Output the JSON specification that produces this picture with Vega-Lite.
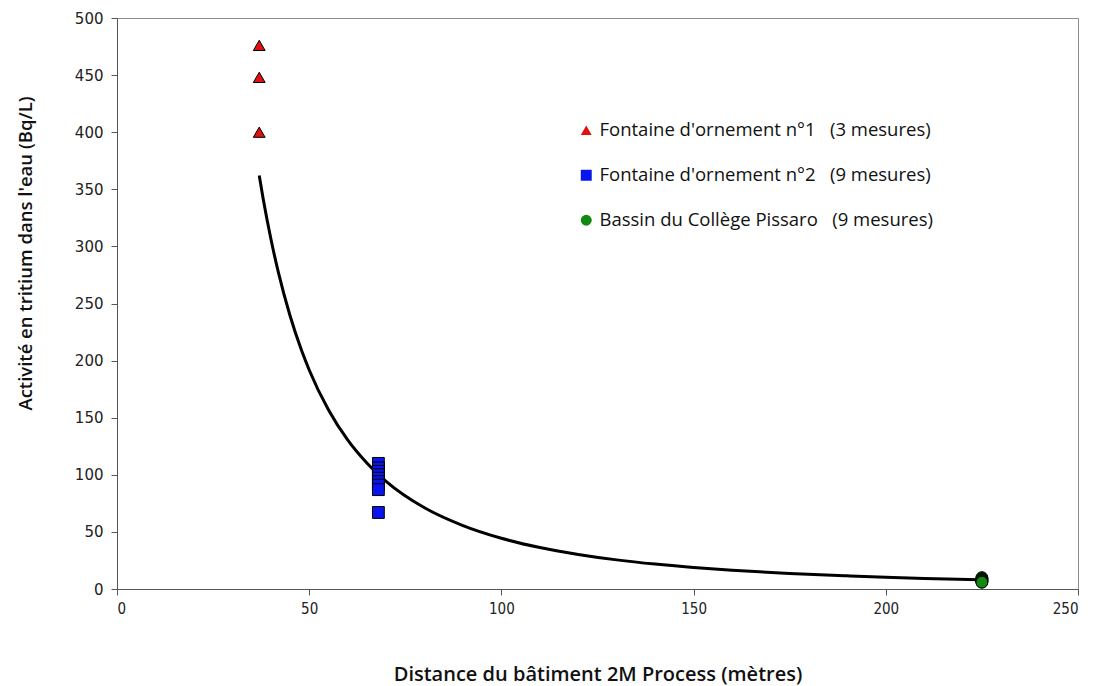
{
  "$schema": "https://vega.github.io/schema/vega-lite/v6.json",
  "width": 961,
  "height": 571,
  "autosize": {"type": "none"},
  "padding": {"left": 117, "top": 18, "right": 18, "bottom": 97},
  "background": "white",
  "config": {
    "font": "DejaVu Sans",
    "view": {"stroke": "#8c8c8c", "strokeWidth": 1},
    "axis": {
      "grid": false,
      "domainColor": "#555555",
      "tickColor": "#555555",
      "tickSize": 6,
      "labelFont": "DejaVu Sans",
      "labelFontSize": 15,
      "labelColor": "#222222",
      "titleColor": "#111111"
    }
  },
  "datasets": {
    "mesures": [
      {"distance": 37, "activite": 476, "serie": "Fontaine d'ornement n°1"},
      {"distance": 37, "activite": 448, "serie": "Fontaine d'ornement n°1"},
      {"distance": 37, "activite": 400, "serie": "Fontaine d'ornement n°1"},
      {"distance": 68, "activite": 110, "serie": "Fontaine d'ornement n°2"},
      {"distance": 68, "activite": 106, "serie": "Fontaine d'ornement n°2"},
      {"distance": 68, "activite": 103, "serie": "Fontaine d'ornement n°2"},
      {"distance": 68, "activite": 100, "serie": "Fontaine d'ornement n°2"},
      {"distance": 68, "activite": 97, "serie": "Fontaine d'ornement n°2"},
      {"distance": 68, "activite": 94, "serie": "Fontaine d'ornement n°2"},
      {"distance": 68, "activite": 91, "serie": "Fontaine d'ornement n°2"},
      {"distance": 68, "activite": 87, "serie": "Fontaine d'ornement n°2"},
      {"distance": 68, "activite": 67, "serie": "Fontaine d'ornement n°2"},
      {"distance": 225, "activite": 10, "serie": "Bassin du Collège Pissaro"},
      {"distance": 225, "activite": 9, "serie": "Bassin du Collège Pissaro"},
      {"distance": 225, "activite": 9, "serie": "Bassin du Collège Pissaro"},
      {"distance": 225, "activite": 8, "serie": "Bassin du Collège Pissaro"},
      {"distance": 225, "activite": 8, "serie": "Bassin du Collège Pissaro"},
      {"distance": 225, "activite": 7, "serie": "Bassin du Collège Pissaro"},
      {"distance": 225, "activite": 7, "serie": "Bassin du Collège Pissaro"},
      {"distance": 225, "activite": 6, "serie": "Bassin du Collège Pissaro"},
      {"distance": 225, "activite": 6, "serie": "Bassin du Collège Pissaro"}
    ],
    "courbe": [
      {"distance": 37, "activite": 362},
      {"distance": 38, "activite": 342.2},
      {"distance": 40, "activite": 307.1},
      {"distance": 42, "activite": 277.0},
      {"distance": 45, "activite": 239.5},
      {"distance": 48, "activite": 209.0},
      {"distance": 50, "activite": 191.8},
      {"distance": 55, "activite": 156.9},
      {"distance": 60, "activite": 130.5},
      {"distance": 65, "activite": 110.3},
      {"distance": 70, "activite": 94.3},
      {"distance": 80, "activite": 71.1},
      {"distance": 90, "activite": 55.5},
      {"distance": 100, "activite": 44.4},
      {"distance": 110, "activite": 36.3},
      {"distance": 120, "activite": 30.3},
      {"distance": 130, "activite": 25.5},
      {"distance": 140, "activite": 21.8},
      {"distance": 150, "activite": 18.9},
      {"distance": 160, "activite": 16.5},
      {"distance": 175, "activite": 13.6},
      {"distance": 190, "activite": 11.5},
      {"distance": 200, "activite": 10.3},
      {"distance": 210, "activite": 9.3},
      {"distance": 225, "activite": 8.0}
    ]
  },
  "encoding": {
    "x": {
      "field": "distance",
      "type": "quantitative",
      "scale": {"domain": [0, 250], "nice": false, "zero": true},
      "axis": {
        "values": [0, 50, 100, 150, 200, 250],
        "labelFont": "DejaVu Sans Condensed",
        "title": "Distance du bâtiment 2M Process (mètres)",
        "titleFontSize": 20,
        "titleFontWeight": 600,
        "titleFont": "Open Sans",
        "titlePadding": 48,
        "labelPadding": 6
      }
    },
    "y": {
      "field": "activite",
      "type": "quantitative",
      "scale": {"domain": [0, 500], "nice": false},
      "axis": {
        "values": [0, 50, 100, 150, 200, 250, 300, 350, 400, 450, 500],
        "title": "Activité en tritium dans l'eau (Bq/L)",
        "titleFont": "Open Sans",
        "titleFontSize": 18.5,
        "titleFontWeight": 600,
        "titlePadding": 39,
        "titleY": 235,
        "labelPadding": 8
      }
    }
  },
  "layer": [
    {
      "data": {"name": "courbe"},
      "mark": {"type": "line", "color": "black", "strokeWidth": 3, "interpolate": "monotone"},
      "encoding": {}
    },
    {
      "data": {"name": "mesures"},
      "mark": {"type": "point", "filled": true, "opacity": 1, "stroke": "black", "strokeWidth": 1, "size": 140},
      "encoding": {
        "color": {
          "field": "serie",
          "type": "nominal",
          "scale": {
            "domain": ["Fontaine d'ornement n°1", "Fontaine d'ornement n°2", "Bassin du Collège Pissaro"],
            "range": ["#e01010", "#0a14ee", "#118a11"]
          },
          "legend": {
            "title": null,
            "orient": "none",
            "legendX": 460,
            "legendY": 103,
            "rowPadding": 26,
            "labelFont": "Open Sans",
            "labelFontSize": 18.5,
            "labelColor": "#111111",
            "symbolSize": 120,
            "symbolStrokeWidth": 0,
            "labelOffset": 4,
            "labelLimit": 600,
            "labelExpr": "datum.label == \"Fontaine d'ornement n°1\" ? \"Fontaine d'ornement n°1\u00a0\u00a0\u00a0(3 mesures)\" : datum.label == \"Fontaine d'ornement n°2\" ? \"Fontaine d'ornement n°2\u00a0\u00a0\u00a0(9 mesures)\" : \"Bassin du Collège Pissaro\u00a0\u00a0\u00a0(9 mesures)\""
          }
        },
        "shape": {
          "field": "serie",
          "type": "nominal",
          "scale": {
            "domain": ["Fontaine d'ornement n°1", "Fontaine d'ornement n°2", "Bassin du Collège Pissaro"],
            "range": ["triangle-up", "square", "circle"]
          },
          "legend": null
        }
      }
    }
  ]
}
